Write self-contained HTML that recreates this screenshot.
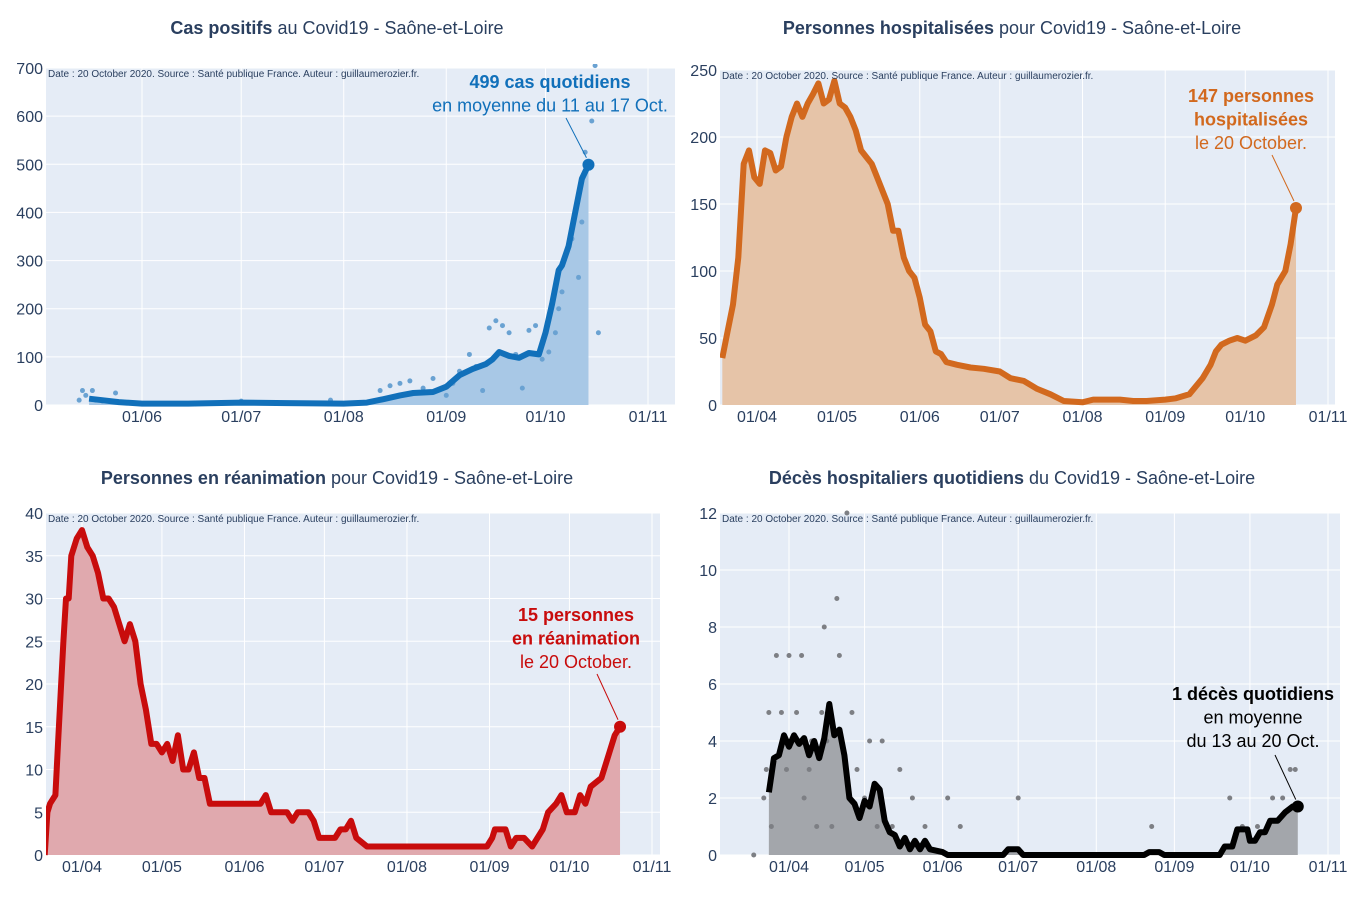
<!DOCTYPE html>
<html><head><meta charset="utf-8">
<style>
body{margin:0;background:#fff;width:1350px;height:900px;overflow:hidden}
svg text{font-family:"Liberation Sans",sans-serif}
</style></head>
<body>
<svg id="c" width="1350" height="900"></svg>
<script>
// ---- Panel 1: positive cases ----
const casDates=["2020-05-16","2020-05-20","2020-05-25","2020-06-01","2020-06-15","2020-07-01","2020-07-15","2020-08-01","2020-08-08","2020-08-13","2020-08-18","2020-08-22","2020-08-28","2020-09-01","2020-09-05","2020-09-09","2020-09-13","2020-09-15","2020-09-17","2020-09-20","2020-09-23","2020-09-26","2020-09-29","2020-10-01","2020-10-03","2020-10-05","2020-10-06","2020-10-08","2020-10-10","2020-10-12","2020-10-14"];
const casValues=[13,10,6,3,3,5,4,3,5,12,20,25,27,38,62,75,85,95,110,102,98,108,105,150,210,280,290,330,400,470,499];
const casDotDates=["2020-05-13","2020-05-14","2020-05-15","2020-05-17","2020-05-18","2020-05-20","2020-05-24","2020-05-28","2020-06-05","2020-07-01","2020-07-28","2020-08-12","2020-08-15","2020-08-18","2020-08-21","2020-08-25","2020-08-28","2020-09-01","2020-09-03","2020-09-05","2020-09-08","2020-09-10","2020-09-12","2020-09-14","2020-09-16","2020-09-18","2020-09-20","2020-09-22","2020-09-24","2020-09-26","2020-09-28","2020-09-30","2020-10-02","2020-10-04","2020-10-05","2020-10-06","2020-10-08","2020-10-09","2020-10-11","2020-10-12","2020-10-13","2020-10-15","2020-10-16","2020-10-17"];
const casDotValues=[10,30,20,30,10,8,25,5,3,8,10,30,40,45,50,35,55,20,45,70,105,80,30,160,175,165,150,105,35,155,165,95,110,150,200,235,330,345,265,380,525,590,705,150];
// ---- Panel 2: hospitalised ----
const hospDates=["2020-03-19","2020-03-21","2020-03-23","2020-03-25","2020-03-27","2020-03-29","2020-03-31","2020-04-02","2020-04-04","2020-04-06","2020-04-08","2020-04-10","2020-04-12","2020-04-14","2020-04-16","2020-04-18","2020-04-20","2020-04-22","2020-04-24","2020-04-26","2020-04-28","2020-04-30","2020-05-02","2020-05-04","2020-05-06","2020-05-08","2020-05-10","2020-05-12","2020-05-14","2020-05-16","2020-05-18","2020-05-20","2020-05-22","2020-05-24","2020-05-26","2020-05-28","2020-05-30","2020-06-01","2020-06-03","2020-06-05","2020-06-07","2020-06-09","2020-06-11","2020-06-15","2020-06-20","2020-06-25","2020-07-01","2020-07-05","2020-07-10","2020-07-15","2020-07-20","2020-07-25","2020-08-01","2020-08-05","2020-08-15","2020-08-20","2020-08-25","2020-09-01","2020-09-05","2020-09-10","2020-09-15","2020-09-18","2020-09-20","2020-09-22","2020-09-25","2020-09-28","2020-10-01","2020-10-05","2020-10-08","2020-10-11","2020-10-13","2020-10-16","2020-10-18","2020-10-20"];
const hospValues=[35,55,75,110,180,190,170,165,190,188,175,178,200,215,225,215,225,232,240,225,228,242,225,222,215,205,190,185,180,170,160,150,130,130,110,100,95,80,60,55,40,38,32,30,28,27,25,20,18,12,8,3,2,4,4,3,3,4,5,8,20,30,40,45,48,50,48,52,58,75,90,100,120,147];
// ---- Panel 3: ICU ----
const reaDates=["2020-03-18","2020-03-19","2020-03-20","2020-03-22","2020-03-23","2020-03-24","2020-03-25","2020-03-26","2020-03-27","2020-03-28","2020-03-30","2020-04-01","2020-04-03","2020-04-05","2020-04-07","2020-04-09","2020-04-11","2020-04-13","2020-04-15","2020-04-17","2020-04-19","2020-04-21","2020-04-23","2020-04-25","2020-04-27","2020-04-29","2020-05-01","2020-05-03","2020-05-05","2020-05-07","2020-05-09","2020-05-11","2020-05-13","2020-05-15","2020-05-17","2020-05-19","2020-06-01","2020-06-07","2020-06-09","2020-06-11","2020-06-17","2020-06-19","2020-06-21","2020-06-25","2020-06-27","2020-06-29","2020-07-05","2020-07-07","2020-07-09","2020-07-11","2020-07-13","2020-07-17","2020-08-01","2020-08-15","2020-08-31","2020-09-02","2020-09-03","2020-09-07","2020-09-09","2020-09-11","2020-09-14","2020-09-17","2020-09-21","2020-09-23","2020-09-26","2020-09-28","2020-09-30","2020-10-03","2020-10-05","2020-10-07","2020-10-09","2020-10-13","2020-10-16","2020-10-18","2020-10-20"];
const reaValues=[0,5,6,7,13,19,25,30,30,35,37,38,36,35,33,30,30,29,27,25,27,25,20,17,13,13,12,13,11,14,10,10,12,9,9,6,6,6,7,5,5,4,5,5,4,2,2,3,3,4,2,1,1,1,1,2,3,3,1,2,2,1,3,5,6,7,5,5,7,6,8,9,12,14,15];
// ---- Panel 4: deaths ----
const decDates=["2020-03-24","2020-03-26","2020-03-28","2020-03-30","2020-04-01","2020-04-03","2020-04-05","2020-04-07","2020-04-09","2020-04-11","2020-04-13","2020-04-15","2020-04-17","2020-04-19","2020-04-21","2020-04-23","2020-04-25","2020-04-27","2020-04-29","2020-05-01","2020-05-03","2020-05-05","2020-05-07","2020-05-09","2020-05-11","2020-05-13","2020-05-15","2020-05-17","2020-05-19","2020-05-21","2020-05-23","2020-05-25","2020-05-27","2020-06-01","2020-06-03","2020-06-25","2020-06-27","2020-07-01","2020-07-03","2020-08-20","2020-08-22","2020-08-26","2020-08-28","2020-09-19","2020-09-21","2020-09-24","2020-09-26","2020-09-30","2020-10-01","2020-10-03","2020-10-05","2020-10-07","2020-10-09","2020-10-12","2020-10-15","2020-10-18","2020-10-20"];
const decValues=[2.2,3.4,3.5,4.2,3.8,4.2,3.9,4.1,3.5,4.0,3.4,4.1,5.3,4.2,4.4,3.5,2.0,1.8,1.3,1.9,1.7,2.5,2.3,1.2,0.8,0.7,0.3,0.6,0.2,0.5,0.2,0.5,0.2,0.1,0,0,0.2,0.2,0,0,0.1,0.1,0,0,0.3,0.3,0.9,0.9,0.5,0.5,0.8,0.8,1.2,1.2,1.5,1.7,1.7];
const decDotDates=["2020-03-18","2020-03-22","2020-03-23","2020-03-24","2020-03-25","2020-03-27","2020-03-29","2020-03-31","2020-04-01","2020-04-02","2020-04-04","2020-04-06","2020-04-07","2020-04-09","2020-04-10","2020-04-12","2020-04-14","2020-04-15","2020-04-16","2020-04-18","2020-04-20","2020-04-21","2020-04-24","2020-04-26","2020-04-28","2020-05-01","2020-05-03","2020-05-06","2020-05-08","2020-05-12","2020-05-15","2020-05-20","2020-05-25","2020-06-03","2020-06-08","2020-07-01","2020-08-23","2020-09-23","2020-09-28","2020-10-04","2020-10-10","2020-10-14","2020-10-17","2020-10-19"];
const decDotValues=[0,2,3,5,1,7,5,3,7,4,5,7,2,3,4,1,5,8,4,1,9,7,12,5,3,2,4,1,4,1,3,2,1,2,1,2,1,2,1,1,2,2,3,3];

const NS="http://www.w3.org/2000/svg";
const svg=document.getElementById('c');
function day(s){return Math.round(Date.parse(s+"T00:00:00Z")/86400000);}
function mk(tag,attrs,parent){const e=document.createElementNS(NS,tag);for(const k in attrs)e.setAttribute(k,attrs[k]);(parent||svg).appendChild(e);return e;}
const monthTicks=["2020-04-01","2020-05-01","2020-06-01","2020-07-01","2020-08-01","2020-09-01","2020-10-01","2020-11-01"];
const monthLabels=["01/04","01/05","01/06","01/07","01/08","01/09","01/10","01/11"];

function panel(p){
  const g=mk('g',{});
  
  
  const x=d=>p.x0+(day(d)-day(p.d0))*(p.x1-p.x0)/(day(p.d1)-day(p.d0));
  const y=v=>p.yb-(v/p.ymax)*(p.yb-p.yt);
  const bg=mk('rect',{x:p.x0,y:p.yt,width:p.x1-p.x0,height:p.yb-p.yt,fill:'#e5ecf6'},g);
  
  
  const clipId='cl'+p.name;
  const cp=mk('clipPath',{id:clipId},g);mk('rect',{x:p.x0,y:p.yt-4,width:p.x1-p.x0,height:p.yb-p.yt+8},cp);
  // y grid + labels
  for(let v=0;v<=p.ymax;v+=p.ystep){
    mk('line',{x1:p.x0,x2:p.x1,y1:y(v),y2:y(v),stroke:'#fff','stroke-width':1},g);
    const t=mk('text',{x:p.x0-3,y:y(v)+6,'text-anchor':'end','font-size':16,fill:'#2a3f5f'},g);
    t.textContent=v;
    
    
  }
  monthTicks.forEach((d,i)=>{
    const xx=x(d); if(xx<p.x0-1||xx>p.x1+20) return;
    if(xx<=p.x1) mk('line',{x1:xx,x2:xx,y1:p.yt,y2:p.yb,stroke:'#fff','stroke-width':1},g);
    const t=mk('text',{x:xx,y:p.yb+17,'text-anchor':'middle','font-size':16,fill:'#2a3f5f'},g);
    t.textContent=monthLabels[i];
    
    
  });
  const cg=mk('g',{'clip-path':'url(#'+clipId+')'},g);
  // fill
  let pts=p.dates.map((d,i)=>x(d).toFixed(1)+','+y(p.values[i]).toFixed(1));
  const fill=mk('polygon',{points:x(p.dates[0])+','+p.yb+' '+pts.join(' ')+' '+x(p.dates[p.dates.length-1])+','+p.yb,fill:p.fill},cg);
  
  
  if(p.dotDates){
    p.dotDates.forEach((d,i)=>{
      const c=mk('circle',{cx:x(d),cy:y(p.dotValues[i]),r:2.5,fill:p.dotColor},cg);
      
      
    });
  }
  const line=mk('polyline',{points:pts.join(' '),fill:'none',stroke:p.color,'stroke-width':6,'stroke-linejoin':'round'},cg);
  
  
  const li=p.dates.length-1;
  const ex=x(p.dates[li]),ey=y(p.values[li]);
  const end=mk('circle',{cx:ex,cy:ey,r:6,fill:p.color},g);
  
  
  mk('line',{x1:p.ann.lx,y1:p.ann.ly,x2:ex-2,y2:ey-7,stroke:p.color,'stroke-width':1},g);
  p.ann.lines.forEach((l,i)=>{
    const t=mk('text',{x:p.ann.x,y:p.ann.y+i*23.5,'text-anchor':'middle','font-size':18,fill:p.color,'font-weight':l[1]?'bold':'normal'},g);
    t.textContent=l[0];
    
    
  });
  const s=mk('text',{x:p.x0+2,y:p.yt+9,'font-size':10,fill:'#2a3f5f'},g);
  s.textContent='Date : 20 October 2020. Source : Santé publique France. Auteur : guillaumerozier.fr.';
  
  
  const tt=mk('text',{x:p.tx,y:p.ty,'text-anchor':'middle','font-size':18,fill:'#2a3f5f'},g);
  
  
  const b=mk('tspan',{'font-weight':'bold'},tt);b.textContent=p.title[0];
  const n=mk('tspan',{},tt);n.textContent=p.title[1];
}

panel({name:'cases-panel',x0:46,x1:675,yt:68,yb:405,ymax:700,ystep:100,d0:'2020-06-01',d1:'2020-11-01',x0d:142,
  dates:casDates,values:casValues,dotDates:casDotDates,dotValues:casDotValues,dotColor:'#6aa2d2',
  color:'#1170ba',fill:'#a8c8e6',title:['Cas positifs',' au Covid19 - Saône-et-Loire'],tx:337,ty:34,
  ann:{x:552,y:88,lx:566,ly:118,lines:[['499 cas quotidiens',1],['en moyenne du 11 au 17 Oct.',0]]}});
// fix x mapping for cases: 01/06 at 142, 01/11 at 648
</script>
<script>
// re-render with proper pixel anchors: clear and redraw using tick anchors
while(svg.firstChild)svg.removeChild(svg.firstChild);
function panel2(p){
  // compute x0 date mapping from tick anchors
  const pxPerDay=(p.tb-p.ta)/(day(p.da2)-day(p.da));
  const dStart=new Date((day(p.da)-(p.ta-p.x0)/pxPerDay)*86400000).toISOString().slice(0,10);
  const dEnd=new Date((day(p.da)+(p.x1-p.ta)/pxPerDay)*86400000).toISOString().slice(0,10);
  p.d0=p.da; p.d1=p.da2;
  const X0=p.x0,X1=p.x1;
  // use anchor-based linear map
  p.x0=p.ta; p.x1=p.tb;
  const realX0=X0, realX1=X1;
  panelAnch(p,realX0,realX1);
}
function panelAnch(p,RX0,RX1){
  const g=mk('g',{});
  
  
  const x=d=>p.ta+(day(d)-day(p.da))*(p.tb-p.ta)/(day(p.da2)-day(p.da));
  const y=v=>p.yb-(v/p.ymax)*(p.yb-p.yt);
  const bg=mk('rect',{x:RX0,y:p.yt,width:RX1-RX0,height:p.yb-p.yt,fill:'#e5ecf6'},g);
  
  
  const clipId='cl'+p.name;
  const cp=mk('clipPath',{id:clipId},g);mk('rect',{x:RX0,y:p.yt-4,width:RX1-RX0,height:p.yb-p.yt+8},cp);
  for(let v=0;v<=p.ymax;v+=p.ystep){
    mk('line',{x1:RX0,x2:RX1,y1:y(v),y2:y(v),stroke:'#fff','stroke-width':1},g);
    const t=mk('text',{x:RX0-3,y:y(v)+6,'text-anchor':'end','font-size':16,fill:'#2a3f5f'},g);
    t.textContent=v;
    
    
  }
  monthTicks.forEach((d,i)=>{
    const xx=x(d); if(xx<RX0-1||xx>RX1+20) return;
    if(xx<=RX1) mk('line',{x1:xx,x2:xx,y1:p.yt,y2:p.yb,stroke:'#fff','stroke-width':1},g);
    const t=mk('text',{x:xx,y:p.yb+17,'text-anchor':'middle','font-size':16,fill:'#2a3f5f'},g);
    t.textContent=monthLabels[i];
    
    
  });
  const cg=mk('g',{'clip-path':'url(#'+clipId+')'},g);
  const pts=p.dates.map((d,i)=>x(d).toFixed(1)+','+y(p.values[i]).toFixed(1));
  const li=p.dates.length-1;
  const fill=mk('polygon',{points:x(p.dates[0])+','+p.yb+' '+pts.join(' ')+' '+x(p.dates[li])+','+p.yb,fill:p.fill},cg);
  
  
  if(p.dotDates){
    p.dotDates.forEach((d,i)=>{
      const c=mk('circle',{cx:x(d),cy:y(p.dotValues[i]),r:2.5,fill:p.dotColor},cg);
      
      
    });
  }
  const line=mk('polyline',{points:pts.join(' '),fill:'none',stroke:p.color,'stroke-width':6,'stroke-linejoin':'round'},cg);
  
  
  const ex=x(p.dates[li]),ey=y(p.values[li]);
  const end=mk('circle',{cx:ex,cy:ey,r:6,fill:p.color},g);
  
  
  mk('line',{x1:p.ann.lx,y1:p.ann.ly,x2:ex-2,y2:ey-7,stroke:p.color,'stroke-width':1},g);
  p.ann.lines.forEach((l,i)=>{
    const t=mk('text',{x:p.ann.x,y:p.ann.y+i*23.5,'text-anchor':'middle','font-size':18,fill:p.color,'font-weight':l[1]?'bold':'normal'},g);
    t.textContent=l[0];
    
    
  });
  const s=mk('text',{x:RX0+2,y:p.yt+9,'font-size':10,fill:'#2a3f5f'},g);
  s.textContent='Date : 20 October 2020. Source : Santé publique France. Auteur : guillaumerozier.fr.';
  
  
  const tt=mk('text',{x:p.tx,y:p.ty,'text-anchor':'middle','font-size':18,fill:'#2a3f5f'},g);
  
  
  const b=mk('tspan',{'font-weight':'bold'},tt);b.textContent=p.title[0];
  const n=mk('tspan',{},tt);n.textContent=p.title[1];
}
panelAnch({name:'cases-panel',yt:68,yb:405,ymax:700,ystep:100,ta:142,tb:648,da:'2020-06-01',da2:'2020-11-01',
  dates:casDates,values:casValues,dotDates:casDotDates,dotValues:casDotValues,dotColor:'#6aa2d2',
  color:'#1170ba',fill:'#a8c8e6',title:['Cas positifs',' au Covid19 - Saône-et-Loire'],tx:337,ty:34,
  ann:{x:550,y:88,lx:566,ly:118,lines:[['499 cas quotidiens',1],['en moyenne du 11 au 17 Oct.',0]]}},46,675);
panelAnch({name:'hospital-panel',yt:70,yb:405,ymax:250,ystep:50,ta:757,tb:1328,da:'2020-04-01',da2:'2020-11-01',
  dates:hospDates,values:hospValues,color:'#d2691e',fill:'#e6c4a8',title:['Personnes hospitalisées',' pour Covid19 - Saône-et-Loire'],tx:1012,ty:34,
  ann:{x:1251,y:102,lx:1272,ly:155,lines:[['147 personnes',1],['hospitalisées',1],['le 20 October.',0]]}},720,1335);
panelAnch({name:'icu-panel',yt:513,yb:855,ymax:40,ystep:5,ta:82,tb:652,da:'2020-04-01',da2:'2020-11-01',
  dates:reaDates,values:reaValues,color:'#c80c0c',fill:'#e0a9ae',title:['Personnes en réanimation',' pour Covid19 - Saône-et-Loire'],tx:337,ty:484,
  ann:{x:576,y:621,lx:597,ly:674,lines:[['15 personnes',1],['en réanimation',1],['le 20 October.',0]]}},46,660);
panelAnch({name:'deaths-panel',yt:513,yb:855,ymax:12,ystep:2,ta:789,tb:1328,da:'2020-04-01',da2:'2020-11-01',
  dates:decDates,values:decValues,dotDates:decDotDates,dotValues:decDotValues,dotColor:'#7d7f84',
  color:'#000000',fill:'#a3a6ab',title:['Décès hospitaliers quotidiens',' du Covid19 - Saône-et-Loire'],tx:1012,ty:484,
  ann:{x:1253,y:700,lx:1275,ly:755,lines:[['1 décès quotidiens',1],['en moyenne',0],['du 13 au 20 Oct.',0]]}},720,1340);
</script>
</body></html>
